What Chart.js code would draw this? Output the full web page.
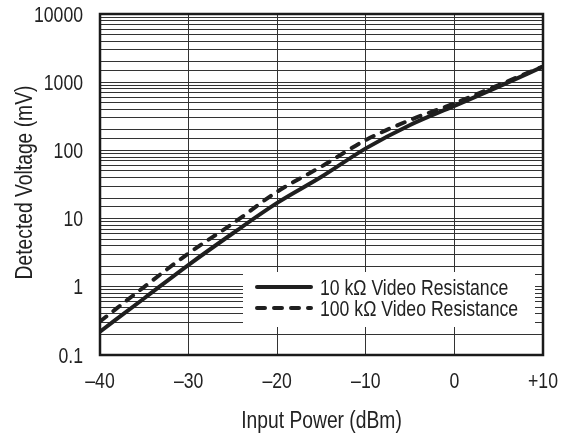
<!DOCTYPE html>
<html>
<head>
<meta charset="utf-8">
<script src="https://cdn.jsdelivr.net/npm/chart.js@4.4.1/dist/chart.umd.min.js"></script>
<style>
  html, body { margin: 0; padding: 0; background: #fff; }
  #wrap { width: 574px; height: 439px; }
</style>
</head>
<body>
<div id="wrap"><canvas id="detChart"></canvas></div>
<script>
// input power (dBm)
var inputPower = [-40, -35, -30, -25, -20, -15, -10, -5, 0, 5, 10];
// detected voltage (mV)
var v10k  = [0.22, 0.68, 2.1, 6.1, 17, 41, 107, 236, 450, 860, 1690];
var v100k = [0.31, 1.0, 3.1, 8.5, 24.8, 58, 142, 279, 490, 910, 1700];
var seriesLabels = ["10 k\u03A9 Video Resistance", "100 k\u03A9 Video Resistance"];
var xTickLabels = {"-40": "\u201340", "-30": "\u201330", "-20": "\u201320", "-10": "\u201310", "0": "0", "10": "+10"};
var yDecades = [0.1, 1, 10, 100, 1000, 10000];
var xTitle = "Input Power (dBm)";
var yTitle = "Detected Voltage (mV)";

// no condensed face installed, so squeeze Liberation Sans sideways
var FONT = "'Liberation Sans', Arial, sans-serif";
var SQUEEZE = 0.82;
var INK = '#222';

function pts(ys) {
  return inputPower.map(function (x, i) { return {x: x, y: ys[i]}; });
}

function narrowText(ctx, txt, x, y, size, align, rot) {
  ctx.save();
  ctx.translate(x, y);
  if (rot) ctx.rotate(rot);
  ctx.scale(SQUEEZE, 1);
  ctx.font = size + 'px ' + FONT;
  ctx.fillStyle = INK;
  ctx.textAlign = align;
  ctx.textBaseline = 'alphabetic';
  ctx.fillText(txt, 0, 0);
  ctx.restore();
}

function decadeLabel(v) {
  for (var i = 0; i < yDecades.length; i++) {
    if (Math.abs(v - yDecades[i]) < yDecades[i] * 1e-6) return String(yDecades[i]);
  }
  return null;
}

// frame, tick labels, titles and the legend box
var framePlugin = {
  id: 'frame',
  afterDraw: function (chart) {
    var ctx = chart.ctx, a = chart.chartArea;
    var xs = chart.scales.x, ys = chart.scales.y;

    // legend box
    var bx = a.left + 143, bw = a.right - 8 - bx;
    var bh = 55, by = a.bottom - 28 - bh;
    ctx.save();
    ctx.fillStyle = '#fff';
    ctx.fillRect(bx, by, bw, bh);
    chart.data.datasets.forEach(function (ds, i) {
      var y = by + 15 + i * 21;
      ctx.beginPath();
      ctx.lineWidth = ds.borderWidth;
      ctx.strokeStyle = ds.borderColor;
      ctx.lineCap = 'round';
      ctx.setLineDash(ds.borderDash || []);
      ctx.moveTo(bx + 14, y);
      ctx.lineTo(bx + 68, y);
      ctx.stroke();
      ctx.setLineDash([]);
      narrowText(ctx, ds.label, bx + 77, y + 7.5, 21.5, 'left');
    });

    // frame
    ctx.lineWidth = 2.5;
    ctx.strokeStyle = '#1a1a1a';
    ctx.strokeRect(a.left, a.top, a.right - a.left, a.bottom - a.top);
    ctx.restore();

    // tick labels
    xs.ticks.forEach(function (t) {
      var lbl = xTickLabels[String(t.value)];
      if (lbl === undefined) return;
      narrowText(ctx, lbl, xs.getPixelForValue(t.value), a.bottom + 33, 21.5, 'center');
    });
    ys.ticks.forEach(function (t) {
      var lbl = decadeLabel(t.value);
      if (lbl === null) return;
      narrowText(ctx, lbl, a.left - 17, ys.getPixelForValue(t.value) + 7.5, 21.5, 'right');
    });

    // axis titles
    narrowText(ctx, xTitle, (a.left + a.right) / 2, a.bottom + 73, 23.5, 'center');
    narrowText(ctx, yTitle, 32, (a.top + a.bottom) / 2 - 2, 23.5, 'center', -Math.PI / 2);
  }
};

new Chart(document.getElementById('detChart'), {
  type: 'line',
  data: {
    datasets: [{
      label: seriesLabels[0],
      data: pts(v10k),
      borderColor: '#1f1f1f',
      borderWidth: 4,
      pointRadius: 0,
      cubicInterpolationMode: 'monotone',
      fill: false
    }, {
      label: seriesLabels[1],
      data: pts(v100k),
      borderColor: '#1f1f1f',
      borderWidth: 4,
      borderDash: [8, 9],
      borderCapStyle: 'round',
      pointRadius: 0,
      cubicInterpolationMode: 'monotone',
      fill: false
    }]
  },
  plugins: [framePlugin],
  options: {
    responsive: true,
    maintainAspectRatio: false,
    animation: false,
    layout: { padding: { top: 14, right: 31, left: 0, bottom: 0 } },
    plugins: { legend: { display: false }, tooltip: { enabled: false } },
    scales: {
      x: {
        type: 'linear',
        min: -40, max: 10,
        afterFit: function (s) { s.height = 84; },
        ticks: { stepSize: 10, display: false },
        grid: { color: '#333', lineWidth: 1, drawTicks: false },
        border: { display: false }
      },
      y: {
        type: 'logarithmic',
        min: 0.1, max: 10000,
        afterFit: function (s) { s.width = 100; },
        ticks: { autoSkip: false, display: false },
        grid: { color: '#333', lineWidth: 1, drawTicks: false },
        border: { display: false }
      }
    }
  }
});
</script>
</body>
</html>
